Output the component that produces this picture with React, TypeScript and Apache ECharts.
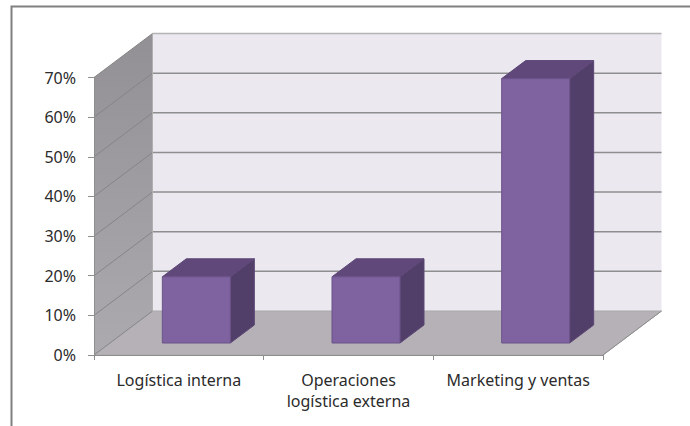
import React, { useEffect, useRef } from "react";
import * as echarts from "echarts";

const categories = ["Logística interna", "Operaciones\nlogística externa", "Marketing y ventas"];
const values = [16.7, 16.7, 66.7];
const yTicks = [0, 10, 20, 30, 40, 50, 60, 70];

const DEPTH_X = 58.5;
const DEPTH_Y = 44;
const BAR_SHIFT_X = 17.5;
const BAR_SHIFT_Y = 12;
const BAR_W = 68;
const BAR_DX = 24;
const BAR_DY = 18;
const GRID = "#8e8e8e";

function renderRoom(params: any, api: any) {
  const cs = params.coordSys;
  const L = cs.x;
  const R = cs.x + cs.width;
  const y0 = api.coord([0, 0])[1];
  const yT = api.coord([0, 70])[1];
  const children: any[] = [
    {
      type: "polygon",
      shape: { points: [[L + DEPTH_X, yT - DEPTH_Y], [R + DEPTH_X, yT - DEPTH_Y], [R + DEPTH_X, y0 - DEPTH_Y], [L + DEPTH_X, y0 - DEPTH_Y]] },
      style: { fill: "#ebe8f0" },
    },
    {
      type: "polygon",
      shape: { points: [[L, y0], [L + DEPTH_X, y0 - DEPTH_Y], [R + DEPTH_X, y0 - DEPTH_Y], [R, y0]] },
      style: { fill: "#b5b1b6", stroke: "#a9a9a9", lineWidth: 1 },
    },
    {
      type: "polygon",
      shape: { points: [[L, y0], [L, yT], [L + DEPTH_X, yT - DEPTH_Y], [L + DEPTH_X, y0 - DEPTH_Y]] },
      style: {
        fill: new echarts.graphic.LinearGradient(0, 0, 0, 1, [
          { offset: 0, color: "#929094" },
          { offset: 1, color: "#acaaae" },
        ]),
      },
    },
  ];
  yTicks.forEach((t) => {
    const y = api.coord([0, t])[1];
    if (t > 0) {
      children.push({
        type: "line",
        shape: { x1: L + DEPTH_X, y1: y - DEPTH_Y, x2: R + DEPTH_X, y2: y - DEPTH_Y },
        style: { stroke: t === 70 ? "#b4b4b4" : GRID, lineWidth: 1.5 },
      });
    }
    children.push({
      type: "line",
      shape: { x1: L, y1: y, x2: L + DEPTH_X, y2: y - DEPTH_Y },
      style: { stroke: "#858585", lineWidth: 1 },
    });
  });
  children.push({
    type: "line",
    shape: { x1: L + DEPTH_X, y1: yT - DEPTH_Y, x2: L + DEPTH_X, y2: y0 - DEPTH_Y },
    style: { stroke: "#b0b0b0", lineWidth: 1 },
  });
  children.push({
    type: "line",
    shape: { x1: R, y1: y0, x2: R + DEPTH_X, y2: y0 - DEPTH_Y },
    style: { stroke: "#8e8e8e", lineWidth: 1 },
  });
  return { type: "group", children };
}

function renderBar(_params: any, api: any) {
  const cx = api.coord([api.value(0), 0])[0] + BAR_SHIFT_X;
  const yb = api.coord([0, 0])[1] - BAR_SHIFT_Y;
  const yt = api.coord([0, api.value(1)])[1] - BAR_SHIFT_Y;
  const x1 = cx - BAR_W / 2;
  const x2 = cx + BAR_W / 2;
  return {
    type: "group",
    children: [
      {
        type: "polygon",
        shape: { points: [[x2, yb], [x2, yt], [x2 + BAR_DX, yt - BAR_DY], [x2 + BAR_DX, yb - BAR_DY]] },
        style: { fill: "#523f69", stroke: "#5c4777", lineWidth: 1 },
      },
      {
        type: "polygon",
        shape: { points: [[x1, yt], [x1 + BAR_DX, yt - BAR_DY], [x2 + BAR_DX, yt - BAR_DY], [x2, yt]] },
        style: { fill: "#60497a", stroke: "#5c4777", lineWidth: 1 },
      },
      {
        type: "rect",
        shape: { x: x1, y: yt, width: BAR_W, height: yb - yt },
        style: { fill: "#7f62a0", stroke: "#6b5389", lineWidth: 1 },
      },
    ],
  };
}

export default function App() {
  const ref = useRef<HTMLDivElement>(null);
  useEffect(() => {
    const chart = echarts.init(ref.current!, null, { renderer: "svg" });
    const text = { color: "#2b2b2b", fontFamily: "Noto Sans", fontSize: 16 };
    chart.setOption({
      animation: false,
      backgroundColor: "#ffffff",
      grid: { left: 94, right: 87, top: 77.5, bottom: 71, containLabel: false },
      graphic: [
        {
          type: "rect",
          shape: { x: 11.5, y: 6.5, width: 720, height: 460 },
          style: { fill: "none", stroke: "#808080", lineWidth: 2 },
          z: -10,
        },
      ],
      xAxis: {
        type: "category",
        data: categories,
        boundaryGap: true,
        axisLine: { show: true, lineStyle: { color: "#8e8e8e", width: 1 } },
        axisTick: { show: true, alignWithLabel: false, length: 5, lineStyle: { color: "#8e8e8e" } },
        axisLabel: { ...text, margin: 14, interval: 0, lineHeight: 21 },
        splitLine: { show: false },
        z: 5,
      },
      yAxis: {
        type: "value",
        min: 0,
        max: 70,
        interval: 10,
        axisLine: { show: true, lineStyle: { color: "#8e8e8e", width: 1 } },
        axisTick: { show: true, length: 6, lineStyle: { color: "#8e8e8e" } },
        axisLabel: { ...text, margin: 18, formatter: (v: number) => `${v}%` },
        splitLine: { show: false },
        z: 5,
      },
      series: [
        { type: "custom", renderItem: renderRoom, data: [[0, 0]], silent: true, z: 1, clip: false },
        {
          type: "custom",
          renderItem: renderBar,
          data: values.map((v, i) => [i, v]),
          encode: { x: 0, y: 1 },
          silent: true,
          z: 2,
          clip: false,
        },
      ],
    });
    return () => chart.dispose();
  }, []);
  return <div ref={ref} style={{ position: "fixed", left: 0, top: 0, width: 690, height: 426 }} />;
}
